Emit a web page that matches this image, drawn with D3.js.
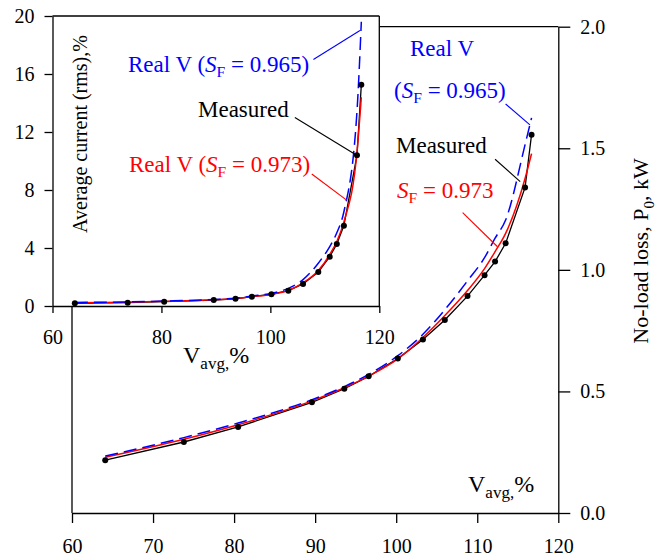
<!DOCTYPE html>
<html>
<head>
<meta charset="utf-8">
<script src="https://cdn.jsdelivr.net/npm/d3@7"></script>
<style>
  body { margin: 0; background: #fff; }
</style>
</head>
<body>
<svg id="chart"></svg>
<script>
// supply voltage (% of rated) for every measured point
const voltage = [64.1, 73.8, 80.5, 89.6, 93.6, 96.6, 100.2, 103.3, 106.0, 108.8, 110.9, 112.2, 113.5, 115.9, 116.7];

// main plot: no-load loss P0, kW
const lossMeasured = [0.217, 0.292, 0.354, 0.455, 0.511, 0.562, 0.635, 0.714, 0.794, 0.892, 0.978, 1.034, 1.109, 1.339, 1.556];
const lossSF0973 = [0.229, 0.303, 0.363, 0.461, 0.515, 0.563, 0.634, 0.722, 0.812, 0.915, 1.005, 1.075, 1.150, 1.376, 1.478];
const lossSF0965 = [0.234, 0.310, 0.370, 0.466, 0.520, 0.570, 0.647, 0.735, 0.836, 0.955, 1.050, 1.130, 1.205, 1.515, 1.625];

// inset: average current (rms), %
const currentMeasured = [0.19, 0.23, 0.30, 0.41, 0.50, 0.64, 0.81, 1.06, 1.52, 2.34, 3.40, 4.28, 5.54, 10.39, 15.26];
const currentSF0973 = [0.22, 0.26, 0.32, 0.43, 0.51, 0.64, 0.80, 1.08, 1.60, 2.45, 3.55, 4.45, 5.80, 10.6, 14.4];
const currentSF0965 = [0.25, 0.28, 0.34, 0.45, 0.54, 0.69, 0.88, 1.22, 1.82, 2.95, 4.10, 5.05, 6.50, 13.4, 19.6];

// tick labels
const mainXTicks = [60, 70, 80, 90, 100, 110, 120];
const mainYTicks = [0, 0.5, 1.0, 1.5, 2.0];
const insetXTicks = [60, 80, 100, 120];
const insetYTicks = [0, 4, 8, 12, 16, 20];

const width = 666, height = 558;
const serif = '"Liberation Serif", "Times New Roman", Times, serif';
const svg = d3.select('#chart').attr('width', width).attr('height', height)
    .attr('font-family', serif);

const colors = { measured: '#000', sf0973: '#ff0000', sf0965: '#0000ff' };

// scales
const xMain = d3.scaleLinear().domain([60, 120]).range([72, 558.3]);
const yMain = d3.scaleLinear().domain([0, 2]).range([513, 26.7]);
const xIn = d3.scaleLinear().domain([60, 120]).range([52.5, 379.3]);
const yIn = d3.scaleLinear().domain([0, 20]).range([306, 16]);

// axis in serif type, black 1.3px lines
function styleAxis(g) {
    g.attr('font-family', serif).attr('font-size', 20);
    g.selectAll('.tick text').attr('font-family', serif).attr('font-size', 20).attr('fill', '#000');
    g.selectAll('.tick line, .domain').attr('stroke', '#000').attr('stroke-width', 1.3);
}

// draws the three series into one panel
function drawSeries(g, x, y, measured, sf0973, sf0965) {
    const line = d3.line().x(d => x(d[0])).y(d => y(d[1]));
    const pts = arr => voltage.map((v, i) => [v, arr[i]]);

    g.append('path').datum(pts(measured))
        .attr('fill', 'none').attr('stroke', colors.measured).attr('stroke-width', 1.3)
        .attr('d', line);
    g.append('path').datum(pts(sf0973))
        .attr('fill', 'none').attr('stroke', colors.sf0973).attr('stroke-width', 1.5)
        .attr('d', line.curve(d3.curveMonotoneX));
    g.append('path').datum(pts(sf0965))
        .attr('fill', 'none').attr('stroke', colors.sf0965).attr('stroke-width', 1.5)
        .attr('stroke-dasharray', '13,6')
        .attr('d', line.curve(d3.curveMonotoneX));
    g.selectAll('circle.pt').data(pts(measured)).enter().append('circle')
        .attr('class', 'pt')
        .attr('cx', d => x(d[0])).attr('cy', d => y(d[1])).attr('r', 3)
        .attr('fill', '#000');
}

// label with "S" italic and subscript "F"
function sfLabel(g, x, y, color, before, after, size) {
    const t = g.append('text').attr('x', x).attr('y', y)
        .attr('fill', color).attr('font-family', serif).attr('font-size', size);
    if (before) t.append('tspan').text(before);
    t.append('tspan').attr('font-style', 'italic').text('S');
    t.append('tspan').attr('dy', 5).attr('font-size', size * 0.68).text('F');
    t.append('tspan').attr('dy', -5).text(after);
    return t;
}

function pointer(g, x, y, from, to, color) {
    g.append('line')
        .attr('x1', x(from[0])).attr('y1', y(from[1]))
        .attr('x2', x(to[0])).attr('y2', y(to[1]))
        .attr('stroke', color).attr('stroke-width', 1.1);
}

function vavgLabel(g, x, y) {
    const t = g.append('text').attr('x', x).attr('y', y)
        .attr('font-family', serif).attr('font-size', 24);
    t.append('tspan').text('V');
    t.append('tspan').attr('dy', 6).attr('font-size', 17).text('avg,');
    t.append('tspan').attr('dy', -6).text('%');
}

// ---------- main plot ----------
const main = svg.append('g');

main.append('g')
    .attr('transform', `translate(0,${yMain(0)})`)
    .call(d3.axisBottom(xMain).tickValues(mainXTicks).tickSize(10).tickSizeOuter(0).tickPadding(16))
    .call(styleAxis);

main.append('g')
    .attr('transform', `translate(${xMain(120)},0)`)
    .call(d3.axisRight(yMain).tickValues(mainYTicks).tickSize(12).tickSizeOuter(0).tickPadding(10)
        .tickFormat(d3.format('.1f')))
    .call(styleAxis);

// frame top and left
main.append('line')
    .attr('x1', xMain(60)).attr('x2', xMain(120)).attr('y1', yMain(2)).attr('y2', yMain(2))
    .attr('stroke', '#000').attr('stroke-width', 1.3);
main.append('line')
    .attr('x1', xMain(60)).attr('x2', xMain(60)).attr('y1', yMain(2)).attr('y2', yMain(0))
    .attr('stroke', '#000').attr('stroke-width', 1.3);

drawSeries(main, xMain, yMain, lossMeasured, lossSF0973, lossSF0965);

const yTitle = main.append('text')
    .attr('transform', 'translate(648,251) rotate(-90)')
    .attr('text-anchor', 'middle').attr('font-family', serif).attr('font-size', 22);
yTitle.append('tspan').text('No-load loss, P');
yTitle.append('tspan').attr('dy', 6).attr('font-size', 15).text('0');
yTitle.append('tspan').attr('dy', -6).text(', kW');

vavgLabel(main, 468, 492);

// annotations of the main plot
main.append('text').attr('x', 410).attr('y', 56).attr('fill', colors.sf0965)
    .attr('font-family', serif).attr('font-size', 23).text('Real V');
sfLabel(main, 394, 98, colors.sf0965, '(', ' = 0.965)', 23);
pointer(main, xMain, yMain, [113.5, 1.682], [116.5, 1.596], colors.sf0965);

main.append('text').attr('x', 396).attr('y', 153).attr('fill', colors.measured)
    .attr('font-family', serif).attr('font-size', 23).text('Measured');
pointer(main, xMain, yMain, [112.2, 1.455], [115.3, 1.363], colors.measured);

sfLabel(main, 397, 198, colors.sf0973, '', ' = 0.973', 23);
pointer(main, xMain, yMain, [108.2, 1.235], [112.5, 1.095], colors.sf0973);

// ---------- inset ----------
const inset = svg.append('g');

inset.append('rect')
    .attr('x', xIn(60)).attr('y', yIn(20))
    .attr('width', xIn(120) - xIn(60)).attr('height', yIn(0) - yIn(20))
    .attr('fill', '#fff');
inset.append('line')
    .attr('x1', xIn(60)).attr('x2', xIn(120)).attr('y1', yIn(20)).attr('y2', yIn(20))
    .attr('stroke', '#000').attr('stroke-width', 1.3);
inset.append('line')
    .attr('x1', xIn(120)).attr('x2', xIn(120)).attr('y1', yIn(20)).attr('y2', yIn(0))
    .attr('stroke', '#000').attr('stroke-width', 1.3);

inset.append('g')
    .attr('transform', `translate(0,${yIn(0)})`)
    .call(d3.axisBottom(xIn).tickValues(insetXTicks).tickSize(7).tickSizeOuter(0).tickPadding(17))
    .call(styleAxis);

inset.append('g')
    .attr('transform', `translate(${xIn(60)},0)`)
    .call(d3.axisLeft(yIn).tickValues(insetYTicks).tickSize(8).tickSizeOuter(0).tickPadding(10))
    .call(styleAxis);

drawSeries(inset, xIn, yIn, currentMeasured, currentSF0973, currentSF0965);

inset.append('text')
    .attr('transform', 'translate(87,134) rotate(-90)')
    .attr('text-anchor', 'middle').attr('font-family', serif).attr('font-size', 20)
    .text('Average current (rms),%');

vavgLabel(inset, 183, 363);

// annotations of the inset
sfLabel(inset, 128, 72, colors.sf0965, 'Real V (', ' = 0.965)', 23);
pointer(inset, xIn, yIn, [107.9, 17.0], [116.45, 19.0], colors.sf0965);

inset.append('text').attr('x', 198).attr('y', 117).attr('fill', colors.measured)
    .attr('font-family', serif).attr('font-size', 23).text('Measured');
pointer(inset, xIn, yIn, [104.5, 13.0], [115.85, 10.4], colors.measured);

sfLabel(inset, 129, 172, colors.sf0973, 'Real V (', ' = 0.973)', 23);
pointer(inset, xIn, yIn, [107.6, 9.1], [114.0, 7.3], colors.sf0973);
</script>
</body>
</html>
